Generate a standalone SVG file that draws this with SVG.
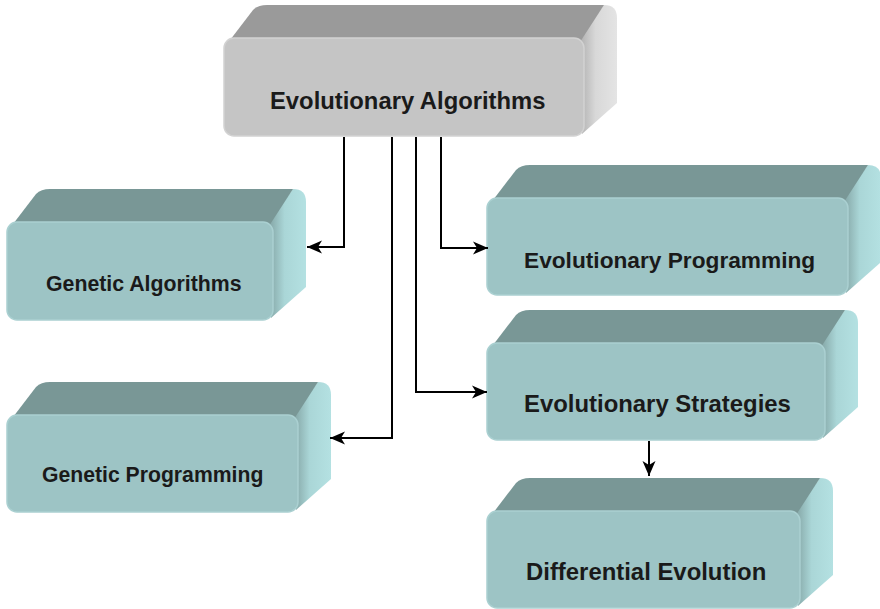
<svg xmlns="http://www.w3.org/2000/svg" width="880" height="609" viewBox="0 0 880 609">
  <defs>
    <linearGradient id="sideTeal" x1="0" y1="0" x2="1" y2="0">
      <stop offset="0" stop-color="#7f9f9f"/>
      <stop offset="0.45" stop-color="#aad6d7"/>
      <stop offset="1" stop-color="#b4e1e2"/>
    </linearGradient>
    <linearGradient id="sideGrey" x1="0" y1="0" x2="1" y2="0">
      <stop offset="0" stop-color="#ababab"/>
      <stop offset="0.45" stop-color="#d8d8d8"/>
      <stop offset="1" stop-color="#e4e4e4"/>
    </linearGradient>
    <marker id="arrow" markerUnits="userSpaceOnUse" markerWidth="16" markerHeight="14" viewBox="0 -7 16 14" refX="15" refY="0" orient="auto">
      <path d="M0,-6.5 L15,0 L0,6.5 L4,0 Z" fill="#000"/>
    </marker>
  </defs>
  <style>
    .top { fill: #799796; }
    .side { fill: url(#sideTeal); }
    .front { fill: #9dc4c5; stroke: #aad0d1; stroke-width: 1.5; }
    .g-top { fill: #9a9a9a; }
    .g-side { fill: url(#sideGrey); }
    .g-front { fill: #c5c5c5; stroke: #d2d2d2; stroke-width: 1.5; }
    .label { font-family: "Liberation Sans", Arial, Helvetica, sans-serif; font-weight: bold; fill: #1a1a1a; }
    .conn { fill: none; stroke: #000; stroke-width: 2; marker-end: url(#arrow); }
  </style>

  <!-- root: Evolutionary Algorithms -->
  <g id="evolutionary-algorithms" transform="translate(224,38)">
    <path class="g-side" d="M354,2 L380,-33 Q393,-33 393,-20 L393,65 L358,96 Z"/>
    <path class="g-top" d="M3,6 L29,-28 Q34,-33 43,-33 L380,-33 L356,4 Z"/>
    <rect class="g-front" x="0" y="0" width="360" height="98" rx="10"/>
    <text class="label" x="46" y="71" font-size="23.8">Evolutionary Algorithms</text>
  </g>

  <!-- Genetic Algorithms -->
  <g id="genetic-algorithms" transform="translate(7,222)">
    <path class="side" d="M260,2 L286,-33 Q299,-33 299,-20 L299,65 L264,96 Z"/>
    <path class="top" d="M3,6 L29,-28 Q34,-33 43,-33 L286,-33 L262,4 Z"/>
    <rect class="front" x="0" y="0" width="266" height="98" rx="10"/>
    <text class="label" x="39" y="69" font-size="21.3">Genetic Algorithms</text>
  </g>

  <!-- Evolutionary Programming -->
  <g id="evolutionary-programming" transform="translate(487,198)">
    <path class="side" d="M355,2 L381,-33 Q394,-33 394,-20 L394,64 L359,95 Z"/>
    <path class="top" d="M3,6 L29,-28 Q34,-33 43,-33 L381,-33 L357,4 Z"/>
    <rect class="front" x="0" y="0" width="361" height="97" rx="10"/>
    <text class="label" x="37" y="70" font-size="22.7">Evolutionary Programming</text>
  </g>

  <!-- Evolutionary Strategies -->
  <g id="evolutionary-strategies" transform="translate(487,343)">
    <path class="side" d="M332,2 L358,-33 Q371,-33 371,-20 L371,64 L336,95 Z"/>
    <path class="top" d="M3,6 L29,-28 Q34,-33 43,-33 L358,-33 L334,4 Z"/>
    <rect class="front" x="0" y="0" width="338" height="97" rx="10"/>
    <text class="label" x="37" y="69" font-size="23.9">Evolutionary Strategies</text>
  </g>

  <!-- Differential Evolution -->
  <g id="differential-evolution" transform="translate(487,511)">
    <path class="side" d="M307,2 L333,-33 Q346,-33 346,-20 L346,64 L311,95 Z"/>
    <path class="top" d="M3,6 L29,-28 Q34,-33 43,-33 L333,-33 L309,4 Z"/>
    <rect class="front" x="0" y="0" width="313" height="97" rx="10"/>
    <text class="label" x="39" y="69" font-size="23.9">Differential Evolution</text>
  </g>

  <!-- Genetic Programming -->
  <g id="genetic-programming" transform="translate(7,415)">
    <path class="side" d="M285,2 L311,-33 Q324,-33 324,-20 L324,64 L289,95 Z"/>
    <path class="top" d="M3,6 L29,-28 Q34,-33 43,-33 L311,-33 L287,4 Z"/>
    <rect class="front" x="0" y="0" width="291" height="97" rx="10"/>
    <text class="label" x="35" y="67" font-size="21.2">Genetic Programming</text>
  </g>

  <!-- connectors -->
  <g id="connectors">
    <path class="conn" d="M344,137 V247 H307"/>
    <path class="conn" d="M392,137 V438 H330"/>
    <path class="conn" d="M416,137 V392 H487"/>
    <path class="conn" d="M441,137 V248 H488"/>
    <path class="conn" d="M649,441 V476"/>
  </g>
</svg>
